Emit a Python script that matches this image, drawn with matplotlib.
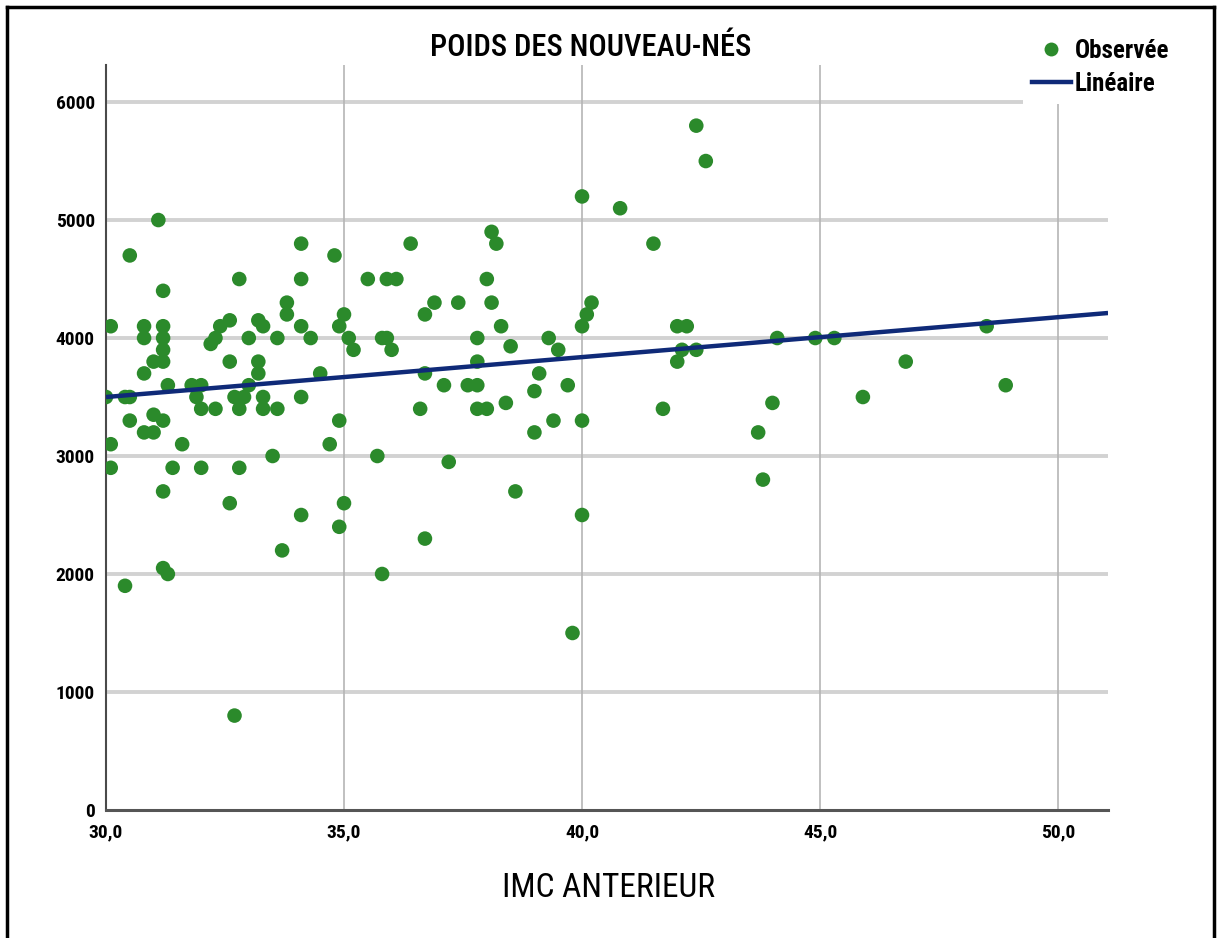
import matplotlib
matplotlib.use('Agg')
import matplotlib.pyplot as plt
from matplotlib.lines import Line2D
from matplotlib.ticker import FuncFormatter

plt.rcParams['font.family'] = ['Roboto Condensed', 'Archivo Narrow', 'Liberation Sans', 'DejaVu Sans']

# IMC antérieur (x) et poids du nouveau-né (y)
imc = [30.1, 30.0, 30.1, 30.1, 30.4, 30.5, 30.4, 30.5, 30.5, 31.1,
       31.2, 30.8, 30.8, 31.2, 31.2, 31.2, 31.2, 31.0, 30.8, 31.3,
       31.0, 31.2, 30.8, 31.0, 31.4, 31.2, 31.2, 31.3, 31.6, 31.8,
       32.0, 31.9, 32.0, 32.3, 32.0, 32.2, 32.3, 32.4, 32.6, 32.6,
       32.6, 32.8, 32.7, 32.9, 32.8, 33.0, 33.0, 32.8, 32.7, 33.2,
       33.3, 33.2, 33.2, 33.3, 33.3, 33.5, 33.6, 33.6, 33.7, 33.8,
       33.8, 34.1, 34.1, 34.1, 34.3, 34.1, 34.1, 34.5, 34.7, 34.8,
       34.9, 35.0, 34.9, 34.9, 35.0, 35.1, 35.2, 35.5, 35.7, 35.8,
       35.9, 35.9, 36.1, 36.0, 35.8, 36.4, 36.6, 36.7, 36.7, 36.7,
       36.9, 37.1, 37.2, 37.4, 37.6, 37.8, 37.8, 37.8, 37.8, 38.0,
       38.0, 38.1, 38.2, 38.1, 38.3, 38.4, 38.5, 38.6, 39.0, 39.0,
       39.1, 39.3, 39.4, 39.5, 39.7, 39.8, 40.0, 40.0, 40.1, 40.2,
       40.0, 40.0, 40.8, 41.5, 41.7, 42.0, 42.0, 42.1, 42.2, 42.4,
       42.4, 42.6, 43.7, 43.8, 44.0, 44.1, 44.9, 45.3, 45.9, 46.8,
       48.5, 48.9]
poids = [4100, 3500, 3100, 2900, 1900, 4700, 3500, 3500, 3300, 5000,
         4400, 4100, 4000, 4100, 4000, 3900, 3800, 3800, 3700, 3600,
         3350, 3300, 3200, 3200, 2900, 2700, 2050, 2000, 3100, 3600,
         3600, 3500, 3400, 3400, 2900, 3950, 4000, 4100, 4150, 3800,
         2600, 4500, 3500, 3500, 3400, 3600, 4000, 2900, 800, 4150,
         4100, 3800, 3700, 3500, 3400, 3000, 4000, 3400, 2200, 4300,
         4200, 4800, 4500, 4100, 4000, 3500, 2500, 3700, 3100, 4700,
         4100, 4200, 3300, 2400, 2600, 4000, 3900, 4500, 3000, 4000,
         4000, 4500, 4500, 3900, 2000, 4800, 3400, 4200, 3700, 2300,
         4300, 3600, 2950, 4300, 3600, 3600, 3800, 4000, 3400, 3400,
         4500, 4900, 4800, 4300, 4100, 3450, 3930, 2700, 3550, 3200,
         3700, 4000, 3300, 3900, 3600, 1500, 5200, 4100, 4200, 4300,
         3300, 2500, 5100, 4800, 3400, 3800, 4100, 3900, 4100, 3900,
         5800, 5500, 3200, 2800, 3450, 4000, 4000, 4000, 3500, 3800,
         4100, 3600]

# droite de régression (Linéaire), lue aux bords de l'axe
fit_x = [30.0, 51.05]
fit_y = [3500, 4212]

x_ticks = [30, 35, 40, 45, 50]
y_ticks = [0, 1000, 2000, 3000, 4000, 5000, 6000]

fig = plt.figure(figsize=(12.21, 9.38), dpi=100)
ax = fig.add_axes([0.0868, 0.1365, 0.8207, 0.7942])

ax.set_xlim(30, 51.05)
ax.set_ylim(0, 6314)
ax.set_xticks(x_ticks)
ax.set_yticks(y_ticks)

for yt in y_ticks[1:]:
    ax.axhline(yt, color='#d2d2d2', lw=2.8, zorder=1)
for xt in x_ticks[1:]:
    ax.axvline(xt, color='#b5b5b5', lw=1.2, zorder=1)

ax.scatter(imc, poids, s=110, color='#2b8a2b', edgecolors='none', zorder=3, clip_on=True)
ax.plot(fit_x, fit_y, color='#0f2a78', lw=3.2, zorder=4, solid_capstyle='butt')

for side in ['top', 'right']:
    ax.spines[side].set_visible(False)
ax.spines['left'].set_color('#4a4a4a')
ax.spines['left'].set_linewidth(1.5)
ax.spines['bottom'].set_color('#555555')
ax.spines['bottom'].set_linewidth(2.2)

ax.xaxis.set_major_formatter(FuncFormatter(lambda v, p: ('%.1f' % v).replace('.', ',')))
ax.tick_params(length=0, labelsize=14)
ax.tick_params(axis='x', pad=10)
ax.tick_params(axis='y', pad=8)
for lab in ax.get_xticklabels() + ax.get_yticklabels():
    lab.set_fontweight('bold')

fig.text(0.484, 0.949, 'POIDS DES NOUVEAU-NÉS', ha='center', va='center',
         fontsize=22, fontweight='medium')
fig.text(0.498, 0.053, 'IMC ANTERIEUR', ha='center', va='center', fontsize=24)

handles = [Line2D([], [], ls='none', marker='o', markersize=10, color='#2b8a2b', markeredgewidth=0),
           Line2D([], [], color='#0f2a78', lw=3.2)]
leg = ax.legend(handles, ['Observée', 'Linéaire'], loc='upper left',
                bbox_to_anchor=(0.838, 0.968), bbox_transform=fig.transFigure,
                frameon=True, fancybox=False, framealpha=1, edgecolor='none',
                facecolor='white', prop={'size': 18, 'weight': 'bold'},
                handlelength=1.55, handletextpad=0.15, labelspacing=0.35,
                borderpad=0.35, borderaxespad=0)
leg.set_zorder(10)

# cadre noir autour de l'image
for xs, ys in [([0.006, 0.994], [0.993, 0.993]), ([0.006, 0.006], [0.0, 0.993]), ([0.994, 0.994], [0.0, 0.993])]:
    fig.add_artist(Line2D(xs, ys, color='black', lw=2.5, transform=fig.transFigure))

fig.savefig('out.png', dpi=100, facecolor='white')
